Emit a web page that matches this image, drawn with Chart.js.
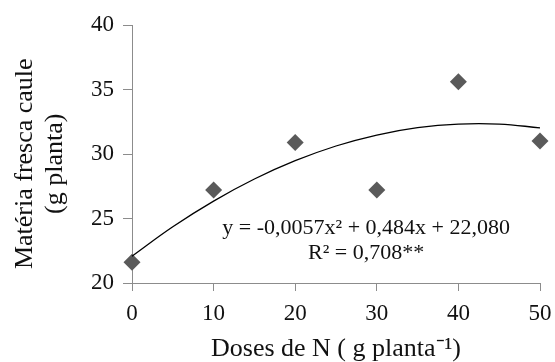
<!DOCTYPE html>
<html>
<head>
<meta charset="utf-8">
<script src="https://cdn.jsdelivr.net/npm/chart.js@4.4.1/dist/chart.umd.min.js"></script>
<style>
  html, body { margin: 0; padding: 0; background: #fff; }
  #wrap { width: 555px; height: 362px; }
</style>
</head>
<body>
<div id="wrap"><canvas id="myChart"></canvas></div>
<script>
const doses = [0, 10, 20, 30, 40, 50];
const massa = [21.6, 27.2, 30.9, 27.2, 35.6, 31.0];
// fitted curve read at every 5 units of x
const curveX = [0, 5, 10, 15, 20, 25, 30, 35, 40, 45, 50];
const curveY = [22.08, 24.36, 26.35, 28.06, 29.48, 30.62, 31.47, 32.04, 32.32, 32.32, 32.03];
const eqLines = ["y = -0,0057x\u00b2 + 0,484x + 22,080", "R\u00b2 = 0,708**"];

const serif = "'Liberation Serif', 'Times New Roman', serif";
const axisGrey = "#8c8c8c";

const equationText = {
  id: "equationText",
  afterDatasetsDraw(chart) {
    const { ctx, scales } = chart;
    const cx = scales.x.getPixelForValue(28.7);
    const y1 = scales.y.getPixelForValue(24.25);
    const y2 = scales.y.getPixelForValue(22.3);
    ctx.save();
    ctx.fillStyle = "#111";
    ctx.font = "22px " + serif;
    ctx.textAlign = "center";
    ctx.textBaseline = "middle";
    ctx.fillText(eqLines[0], cx, y1);
    ctx.fillText(eqLines[1], cx, y2);
    ctx.restore();
  }
};

const config = {
  type: "scatter",
  data: {
    datasets: [
      {
        label: "curve",
        data: curveX.map((x, i) => ({ x: x, y: curveY[i] })),
        showLine: true,
        borderColor: "#000",
        borderWidth: 1.3,
        pointRadius: 0,
        tension: 0.4,
        clip: false,
      },
      {
        label: "Matéria fresca caule",
        data: doses.map((x, i) => ({ x: x, y: massa[i] })),
        pointStyle: "rectRot",
        pointRadius: 8.5,
        backgroundColor: "#5a5a5a",
        borderColor: "#5a5a5a",
        borderWidth: 0,
        clip: false,
      },
    ],
  },
  options: {
    responsive: true,
    maintainAspectRatio: false,
    animation: false,
    layout: { padding: { top: 25, right: 15, left: 0, bottom: 0 } },
    plugins: {
      legend: { display: false },
      tooltip: { enabled: false },
    },
    scales: {
      x: {
        type: "linear",
        min: 0,
        max: 50,
        afterFit(scale) {
          scale.height = 79;
          scale.paddingLeft = 0;
          scale.paddingRight = 0;
        },
        ticks: {
          stepSize: 10,
          color: "#111",
          font: { family: serif, size: 23 },
          padding: 9,
        },
        grid: { drawOnChartArea: false, drawTicks: true, tickLength: 8, color: axisGrey },
        border: { color: axisGrey },
        title: {
          display: true,
          text: "Doses de N ( g planta\u207b\u00b9)",
          color: "#111",
          font: { family: serif, size: 26, lineHeight: 1.0 },
          padding: { top: 0, bottom: 0 },
        },
      },
      y: {
        min: 20,
        max: 40,
        afterFit(scale) { scale.width = 132; },
        ticks: {
          stepSize: 5,
          color: "#111",
          font: { family: serif, size: 23 },
          padding: 9,
        },
        grid: { drawOnChartArea: false, drawTicks: true, tickLength: 9, color: axisGrey },
        border: { color: axisGrey },
        title: {
          display: true,
          text: ["Matéria fresca caule   ", "(g planta)   "],
          color: "#111",
          font: { family: serif, size: 26, lineHeight: 1.15 },
          padding: { top: 10, bottom: 4 },
        },
      },
    },
  },
  plugins: [equationText],
};

new Chart(document.getElementById("myChart").getContext("2d"), config);
</script>
</body>
</html>
